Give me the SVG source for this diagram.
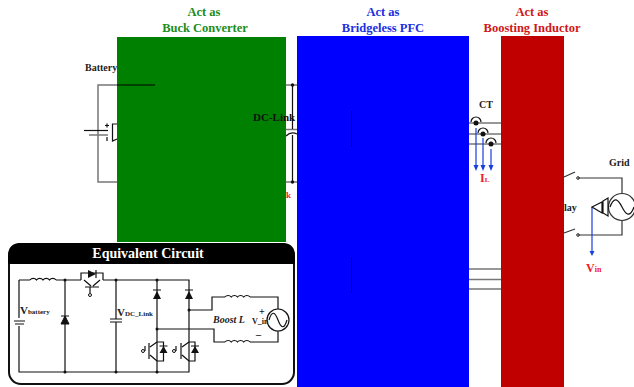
<svg xmlns="http://www.w3.org/2000/svg" width="634" height="387" viewBox="0 0 634 387">
<style>
text{font-family:"Liberation Serif","Times New Roman",serif;font-weight:bold}
.t{font-size:12.500px;text-anchor:middle}
.l{font-size:10px;fill:#222}
.w{fill:none;stroke:#333;stroke-width:1.200}
.g{fill:none;stroke:#777;stroke-width:1.500}
.k{fill:none;stroke:#111;stroke-width:1.200}
.d{fill:#111}
.b{fill:none;stroke:#1a3fe0;stroke-width:1.200}
.a{fill:#1a3fe0}
.r{fill:#f02020}
.s{fill:none;stroke:#000;stroke-width:1}
</style>
<g id="connectors">
<path class="g" d="M117 85H98V182H117"/>
<path class="k" d="M84 130.500H108"/>
<path class="g" d="M89 135H108"/>
<path class="k" d="M117 124H112.500V141L117 139"/>
<path class="k" d="M105 125.500H109M107 123.500V127.500M107 137V141"/>
<path class="g" d="M286 85H297M286 182H297M286 129.500H297"/>
<path class="k" d="M292.500 85V129M292.500 135V182M286 136Q291 131 297 134"/>
<circle class="d" cx="292.500" cy="85" r="1.700"/>
<circle class="d" cx="292.500" cy="182" r="1.700"/>
<path class="w" d="M469 123H501M469 134H501M469 144H501"/>
<path class="g" d="M469 269H501M469 279.500H501M469 289H501"/>
<path class="b" d="M476 128V166M483 138V166M491 149V166"/>
<path class="a" d="M473.500 165H478.500L476 171ZM480.500 165H485.500L483 171ZM488.500 165H493.500L491 171Z"/>
<path class="w" d="M564 177L575 172M564 233L575 229"/>
<path class="w" d="M578 178H622V193M578 235H622V220"/>
<path class="b" d="M592 207V251"/>
<path class="a" d="M589.500 251H594.500L592 256Z"/>
</g>
<g id="ct-sensors">
<circle class="d" cx="476" cy="123" r="2.500"/><circle class="d" cx="483" cy="134" r="2.500"/><circle class="d" cx="491" cy="144" r="2.500"/>
<path class="k" d="M471 122A5 5 0 0 1 481 122M478 133A5 5 0 0 1 488 133M486 143A5 5 0 0 1 496 143"/>
</g>
<g id="grid-source">
<circle cx="578" cy="178" r="1.300" fill="none" stroke="#222"/><circle cx="578" cy="235" r="1.300" fill="none" stroke="#222"/>
<circle class="w" cx="622" cy="207" r="13.500" fill="#fff"/>
<path class="k" d="M610 207C614 196 618 199 622 207S630 218 634 207"/>
<path class="k" d="M592 207L602 202V213ZM603 201L608 198V216L603 213Z"/>
</g>
<g id="buck-block"><rect x="117" y="37" width="169" height="205" fill="#008000"/></g>
<g id="pfc-block"><rect x="297" y="36" width="172" height="351" fill="#0000ff"/></g>
<g id="inductor-block"><rect x="501" y="36" width="63" height="351" fill="#c00000"/></g>
<path class="s" d="M117 85H155M351.500 111V147M351.500 257V293"/>
<g id="labels">
<text class="t" x="204" y="16" fill="#1c8c1c">Act as</text>
<text class="t" x="205" y="32" fill="#1c8c1c">Buck Converter</text>
<text class="t" x="383" y="16" fill="#2030e0">Act as</text>
<text class="t" x="383" y="32" fill="#2030e0">Bridgeless PFC</text>
<text class="t" x="532" y="16" fill="#d01818">Act as</text>
<text class="t" x="532" y="32" fill="#d01818">Boosting Inductor</text>
<text class="l" x="85" y="71">Battery</text>
<text x="253" y="121" font-size="11" fill="#111">DC-Link</text>
<text x="286" y="198" font-size="9" class="r">k</text>
<text class="l" x="479" y="108">CT</text>
<text x="480" y="182" font-size="12" class="r">I<tspan font-size="7">L</tspan></text>
<text class="l" x="609" y="166">Grid</text>
<text class="l" x="564" y="211">lay</text>
<text x="586" y="272" font-size="12" class="r">V<tspan font-size="8">in</tspan></text>
</g>
<g id="equivalent-circuit">
<rect x="9" y="244" width="285" height="140" rx="12" fill="#fff" stroke="#111" stroke-width="2"/>
<path d="M8 263V256Q8 243 21 243H282Q295 243 295 256V263Q295 264 290 264H13Q8 264 8 263Z" fill="#000"/>
<text x="148" y="258" font-size="14" text-anchor="middle" fill="#fff">Equivalent Circuit</text>
<path class="k" d="M19 280H30M56 280H81M103 280H189V372H19V326M19 318V280"/>
<path class="k" d="M30 280a4 4 0 0 1 6.500 0a4 4 0 0 1 6.500 0a4 4 0 0 1 6.500 0a4 4 0 0 1 6.500 0"/>
<path class="k" d="M14 321H25M15 324H24"/>
<path class="k" d="M65 280V372"/>
<path class="d" d="M61 324H69L65 316ZM61 316H69" stroke="#111"/>
<path class="k" d="M81 280V273H103V280"/>
<path class="d" d="M88 270V278L96 274Z"/><path class="k" d="M96 270V278"/>
<path class="k" d="M84 280L91 286M100 280L93 286M85 287H99M90 287V293"/>
<circle cx="90" cy="295" r="1.500" fill="none" stroke="#111"/>
<path class="k" d="M116 280V319M116 322V372M110 319H122M110 322H122"/>
<path class="k" d="M157 280V372"/>
<path class="d" d="M153 299H161L157 291ZM185 299H193L189 291Z"/>
<path class="k" d="M153 290H161M185 290H193"/>
<path class="k" d="M189 310H212V297H225M250 297H278V309M157 329H214V342H225M250 342H278V331"/>
<path class="k" d="M225 297a4 4 0 0 1 6.250 0a4 4 0 0 1 6.250 0a4 4 0 0 1 6.250 0a4 4 0 0 1 6.250 0M225 342a4 4 0 0 1 6.250 0a4 4 0 0 1 6.250 0a4 4 0 0 1 6.250 0a4 4 0 0 1 6.250 0"/>
<circle cx="278" cy="320" r="11" fill="#fff" stroke="#111" stroke-width="1.200"/>
<path class="k" d="M269 320C272 310 275 312 278 320S284 330 287 320"/>
<path class="k" d="M149 343V359M181 343V359M150 347L157 342M150 355L157 361M182 347L189 342M182 355L189 361"/>
<path class="k" d="M157 342H163.500V361H157M189 342H195V361H189"/>
<path class="d" d="M159.500 353H167.500L163.500 346ZM191 353H199L195 346Z"/>
<path class="k" d="M159.500 346H167.500M191 346H199"/>
<path class="k" d="M145 351V346M176 351V346"/>
<circle cx="143" cy="351" r="1.500" fill="none" stroke="#111"/>
<circle cx="174" cy="351" r="1.500" fill="none" stroke="#111"/>
<g class="d"><circle cx="65" cy="280" r="1.500"/><circle cx="65" cy="372" r="1.500"/><circle cx="116" cy="280" r="1.500"/><circle cx="116" cy="372" r="1.500"/><circle cx="157" cy="280" r="1.500"/><circle cx="157" cy="372" r="1.500"/><circle cx="157" cy="329" r="1.500"/><circle cx="189" cy="310" r="1.500"/></g>
<text x="20" y="314" font-size="11" fill="#222">V<tspan font-size="7">battery</tspan></text>
<text x="117" y="316" font-size="11" fill="#222">V<tspan font-size="7">DC_Link</tspan></text>
<text x="213" y="323" font-size="10" font-style="italic" fill="#222">Boost L</text>
<text x="252" y="324" font-size="8" fill="#222">V_in</text>
<text x="259" y="315" font-size="10" fill="#111">+</text>
<text x="256" y="334" font-size="10" fill="#111">_</text>
</g>
</svg>
